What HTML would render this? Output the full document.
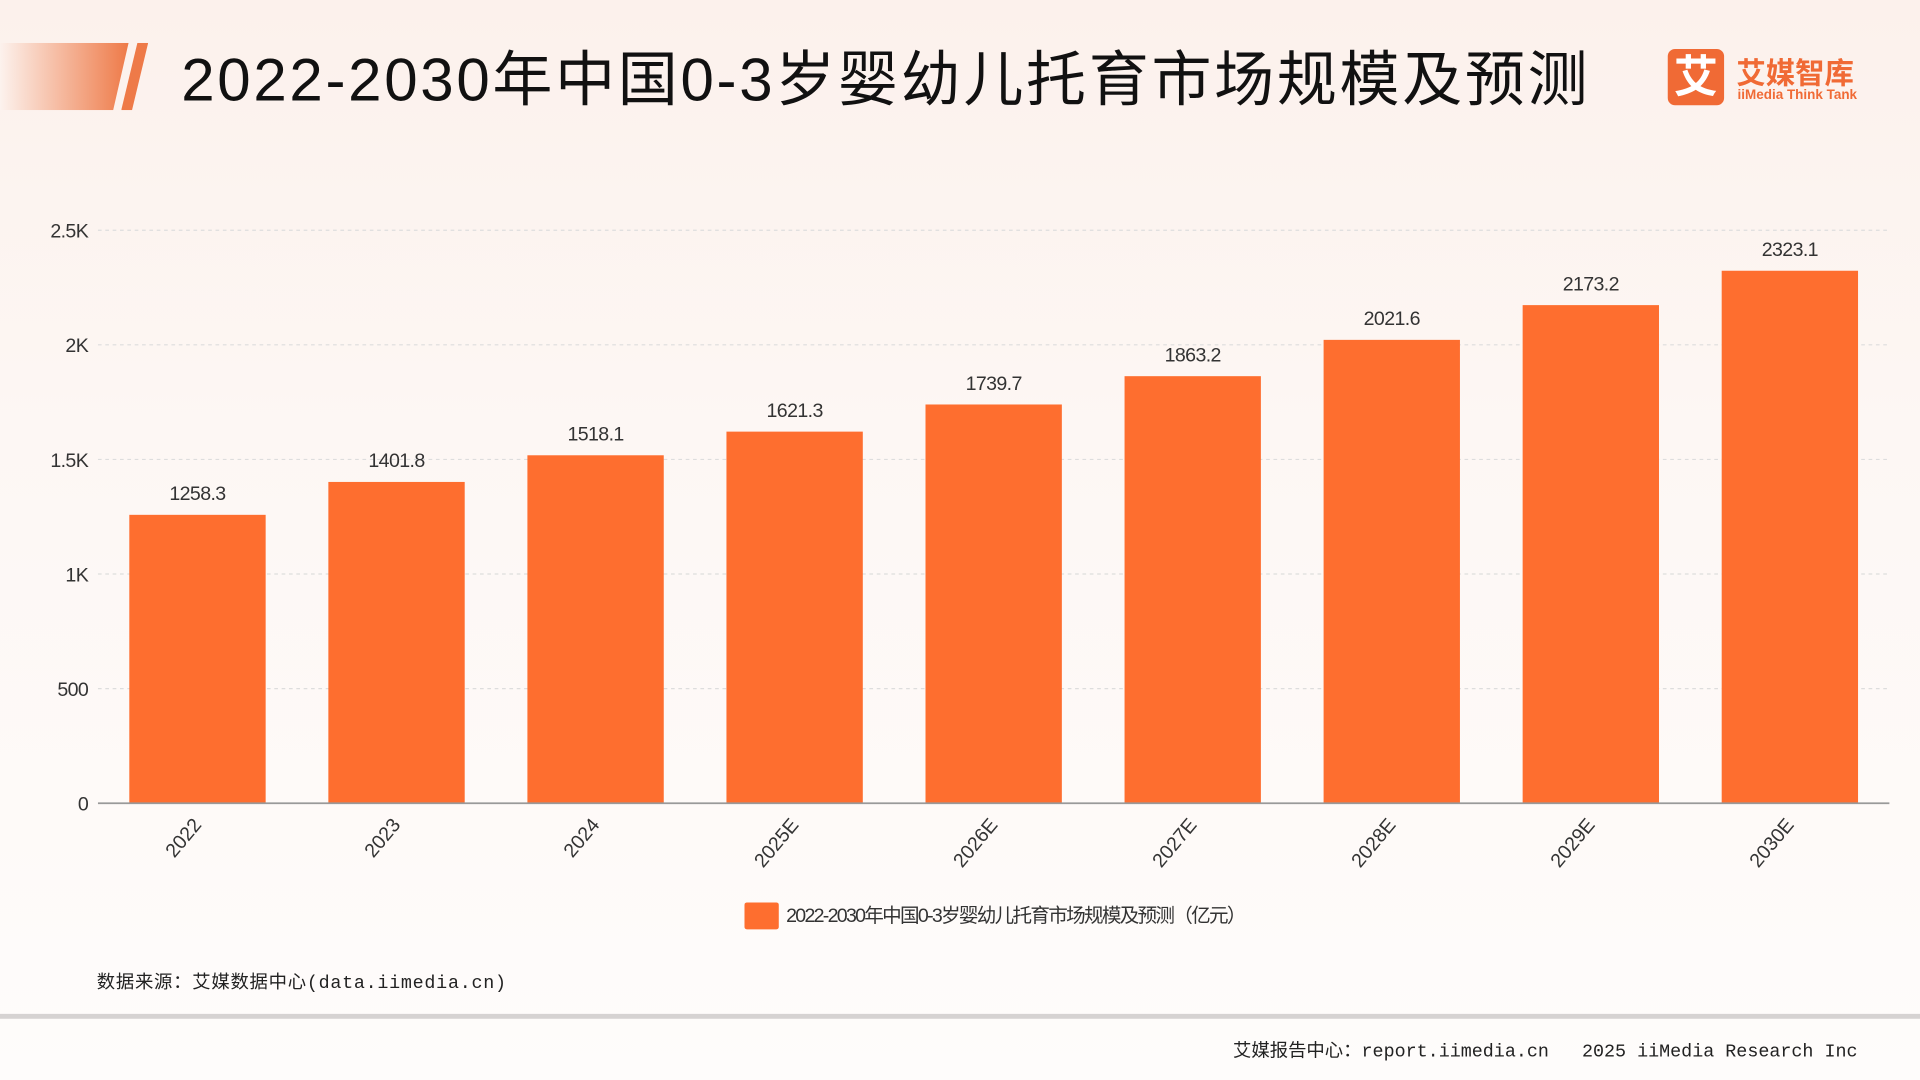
<!DOCTYPE html>
<html><head><meta charset="utf-8"><style>
html,body{margin:0;padding:0;width:1920px;height:1080px;overflow:hidden;background:#fdf6f3}
#wrap{position:absolute;left:0;top:0;width:1568px;height:882px;transform:scale(1.22449);transform-origin:0 0;background:linear-gradient(180deg,#fcf1ec 0%,#fdf7f4 40%,#fefcfb 100%);font-family:"Liberation Sans","Noto Sans CJK SC",sans-serif}
.abs{position:absolute}
</style></head><body>
<div id="wrap">
<div class="abs" style="left:0;top:35px;width:105px;height:55px;background:linear-gradient(90deg,rgba(240,120,70,0) 0%,#ee7a48 100%);clip-path:polygon(0 0,100% 0,88% 100%,0 100%)"></div>
<div class="abs" style="left:99px;top:35px;width:22px;height:55px;background:#ee7a48;clip-path:polygon(60% 0,100% 0,40% 100%,0 100%)"></div>
<div class="abs" style="left:148px;top:26px;font-size:49px;color:#111;white-space:nowrap;font-family:'Liberation Sans','Noto Sans CJK SC',sans-serif;letter-spacing:2.2px">2022-2030年中国0-3岁婴幼儿托育市场规模及预测</div>
<div class="abs" style="left:1362px;top:40px;width:46px;height:46px;background:#f06a35;border-radius:6px;color:#fff;font-size:36px;line-height:46px;text-align:center;font-weight:bold">艾</div>
<div class="abs" style="left:1418px;top:40px;color:#f06a35;font-size:24px;font-weight:bold;white-space:nowrap">艾媒智库</div>
<div class="abs" style="left:1419px;top:72px;color:#f06a35;font-size:11px;font-weight:bold;white-space:nowrap">iiMedia Think Tank</div>
<svg class="abs" style="left:0;top:0" width="1568" height="882" id="chart"></svg>
<div class="abs" style="left:79px;top:791px;font-size:15px;color:#222;white-space:nowrap;letter-spacing:0.6px;font-family:'Liberation Mono','Noto Sans CJK SC',monospace">数据来源：艾媒数据中心(data.iimedia.cn)</div>
<div class="abs" style="left:0;top:828px;width:1568px;height:4px;background:#d6d3d2"></div>
<div class="abs" style="right:51px;top:847px;font-size:15px;color:#222;white-space:nowrap;font-family:'Liberation Mono','Noto Sans CJK SC',monospace">艾媒报告中心：report.iimedia.cn&nbsp;&nbsp;&nbsp;2025 iiMedia Research Inc</div>
</div>
<script>
const categories=["2022","2023","2024","2025E","2026E","2027E","2028E","2029E","2030E"];
const values=[1258.3,1401.8,1518.1,1621.3,1739.7,1863.2,2021.6,2173.2,2323.1];
const ticks=[0,500,1000,1500,2000,2500];
const tickLabels=["0","500","1K","1.5K","2K","2.5K"];
const legendLabel="2022-2030年中国0-3岁婴幼儿托育市场规模及预测（亿元）";
const svg=document.getElementById('chart');const NS="http://www.w3.org/2000/svg";
const x0=80,x1=1543,y0=656,y1=188,maxV=2500;
const y=v=>y0-(v/maxV)*(y0-y1);
const band=(x1-x0)/categories.length;
const xc=i=>x0+band*(i+0.5);
function mk(t,a){const e=document.createElementNS(NS,t);for(const k in a)e.setAttribute(k,a[k]);svg.appendChild(e);return e;}
ticks.forEach((t,i)=>{
 if(t>0){const g=mk('line',{x1:x0,x2:x1,y1:y(t),y2:y(t),stroke:'#ddd','stroke-dasharray':'3,3'});
 
 }
 const l=mk('text',{x:72,y:y(t)+6,'text-anchor':'end','font-size':16,fill:'#333','letter-spacing':'-0.5'});
 l.textContent=tickLabels[i];
 
 
});
values.forEach((v,i)=>{
 const w=band*0.685;
 const r=mk('rect',{x:xc(i)-w/2,y:y(v),width:w,height:y0-y(v),fill:'#fe6e2f'});
 
 
 const t=mk('text',{x:xc(i),y:y(v)-12,'text-anchor':'middle','font-size':16,fill:'#333','letter-spacing':'-0.5'});
 t.textContent=v.toFixed(1);
 
 
 const c=mk('text',{x:0,y:0,'text-anchor':'end','font-size':16,fill:'#333',transform:`translate(${xc(i)+4},${y0+18}) rotate(-50)`});
 c.textContent=categories[i];
 
 
});
const ax=mk('line',{x1:x0,x2:x1,y1:y0,y2:y0,stroke:'#999','stroke-width':1.5});


const sw=mk('rect',{x:608,y:737,width:28,height:22,fill:'#fe6e2f',rx:2});


const lt=mk('text',{x:642,y:753,'font-size':16,fill:'#333','letter-spacing':'-1.4'});
lt.textContent=legendLabel;


</script>
</body></html>
